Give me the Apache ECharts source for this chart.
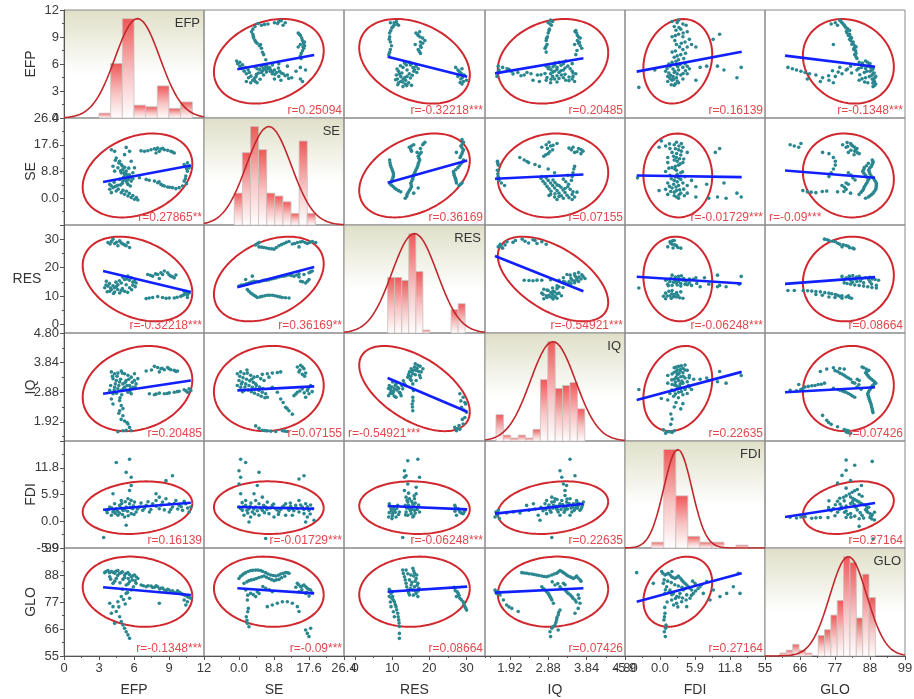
<!DOCTYPE html>
<html><head><meta charset="utf-8">
<script src="https://cdn.jsdelivr.net/npm/echarts@6/dist/echarts.min.js"></script>
<style>html,body{margin:0;padding:0;background:#fff}#c{width:914px;height:699px}</style>
</head><body><div id="c"></div>
<script>
// ---------- variables & axes ----------
const vars = ['EFP','SE','RES','IQ','FDI','GLO'];
const axisMin = [0,-8.8,-3,1.3,-5.9,55];
const axisMax = [12,26.4,35,4.8,17.7,99];
const majorTicks = [[0,3,6,9,12],[-8.8,0,8.8,17.6,26.4],[0,10,20,30],[1.92,2.88,3.84,4.8],[-5.9,0,5.9,11.8,17.7],[55,66,77,88,99]];
const minorTicks = [[1.5,4.5,7.5,10.5],[-4.4,4.4,13.2,22],[5,15,25,35],[1.44,2.4,3.36,4.32],[-2.95,2.95,8.85,14.75],[60.5,71.5,82.5,93.5]];
const labelValues = [[0,3,6,9,12],[0,8.8,17.6,26.4],[0,10,20,30],[1.92,2.88,3.84,4.8],[-5.9,0,5.9,11.8],[55,66,77,88,99]];
const labelTexts = [['0','3','6','9','12'],['0.0','8.8','17.6','26.4'],['0','10','20','30'],['1.92','2.88','3.84','4.80'],['-5.9','0.0','5.9','11.8'],['55','66','77','88','99']];

// ---------- distribution summaries ----------
const means = [6.3,7.5,16.0,3.0,3.0,81.2];
const sds = [1.92,5.64,6.09,0.564,2.37,5.84];

// ---------- histograms ----------
const histStart = [3,-1.2,8.76,1.575,-1.4,59.7];
const histWidth = [1,2.04,1.9,0.185,2.03,2.0];
const histEFP = [3,34,62,8,7,20,6,10];
const histSE = [11,25,34,26,11,10,8,4,29,4];
const histRES = [19,19,18,34,21,1,0,0,0,8,10];
const histIQ = [9,2,1,2,1,4,21,34,18,19,20,11];
const histFDI = [2,34,18,4,2,2,0,1];
const histGLO = [1,2,4,2,1,0,7,9,14,19,34,32,13,28,20];
const histCounts = [histEFP,histSE,histRES,histIQ,histFDI,histGLO];

// ---------- scatter pairs: [first var, second var] ----------
const pts_EFP_SE = [[4.06,15.97],[4.34,15.43],[5.33,16.73],[5.62,15.43],[5.19,14.34],[4.48,13.26],[4.77,12.17],[4.91,11.08],[4.62,10.0],[5.05,9.45],[5.33,8.91],[5.19,7.82],[5.48,7.28],[5.62,6.74],[4.91,8.36],[4.34,8.91],[4.2,10.54],[5.33,6.74],[5.76,5.65],[5.48,4.56],[5.68,4.02],[5.05,5.65],[4.77,6.2],[3.92,4.56],[4.2,3.48],[4.48,2.39],[4.91,1.85],[5.19,1.31],[5.48,0.76],[5.76,0.22],[6.04,-0.33],[6.33,-0.6],[3.92,2.94],[4.06,1.85],[6.89,15.43],[7.18,15.65],[7.46,15.97],[7.75,16.3],[8.03,16.5],[8.31,16.2],[8.6,15.97],[8.88,15.76],[9.16,15.43],[9.45,14.89],[8.17,15.43],[7.89,14.89],[7.75,5.65],[8.03,5.11],[8.31,4.56],[8.6,4.02],[8.88,3.7],[9.3,3.48],[9.59,3.15],[9.87,3.48],[10.16,4.02],[10.3,5.65],[10.44,7.28],[10.58,8.91],[10.3,11.08],[10.58,11.63],[10.72,10.0],[5.76,12.17],[6.04,10.0],[6.47,6.74],[7.04,6.2],[5.1,6.9],[5.4,5.2],[4.6,4.3],[5.9,8.4],[5.55,9.9],
  [4.4,12.5],[4.7,11.6],[5.0,10.6],[5.2,10.2],[4.85,9.0],[5.15,8.4],[5.35,7.9],[5.6,7.7],[5.75,7.0],[5.9,6.4],[5.5,6.2],[5.25,5.9],[5.0,4.9],[4.85,4.4],[4.4,3.9],[4.65,3.0],[5.35,2.3],[5.05,2.6],[5.6,1.6],[5.9,0.9],[6.2,0.2],[4.3,5.3],[4.05,4.1],[7.3,5.9],[8.15,5.4],[8.45,4.25],[9.05,3.6],[8.45,16.45],[7.9,16.1],[9.3,15.2],[6.6,15.6],[10.4,6.4],[10.5,9.7],[10.8,10.6],[10.5,4.8]];
const pts_EFP_RES = [[3.77,28.8],[4.06,29.2],[4.34,28.5],[4.77,29.4],[5.05,28.3],[5.33,27.7],[5.62,27.1],[4.62,27.7],[4.2,30.0],[5.48,28.8],[3.49,12.9],[3.77,13.5],[4.06,12.3],[4.34,12.9],[4.62,14.0],[4.91,14.6],[5.19,15.8],[5.48,17.0],[5.76,16.4],[6.04,15.2],[3.92,11.7],[4.34,11.4],[4.77,11.1],[5.19,11.7],[5.62,12.9],[5.9,13.8],[6.18,14.6],[3.63,15.2],[5.33,14.0],[4.5,13.4],[5.0,12.6],[7.18,17.6],[7.6,17.0],[8.03,17.6],[8.31,18.2],[8.6,18.8],[8.88,18.2],[9.16,17.0],[9.45,16.4],[9.59,17.4],[8.17,16.2],[7.04,9.1],[7.6,9.5],[8.03,9.8],[8.45,9.5],[9.02,9.3],[9.45,9.3],[10.01,9.9],[10.3,10.5],[10.58,9.5],[10.72,11.1],[10.3,11.7],[10.58,10.5],
  [3.6,13.9],[3.9,14.4],[4.2,13.6],[4.45,14.9],[4.75,15.4],[5.05,16.6],[5.35,16.0],[5.6,15.6],[5.9,14.9],[6.1,13.3],[4.0,12.8],[4.6,12.3],[4.9,11.9],[5.45,11.3],[5.8,12.2],[3.7,11.5],[4.25,10.9],[4.5,28.9],[4.9,28.7],[5.2,28.0],[3.95,28.3],[7.4,17.3],[7.85,17.8],[8.45,17.6],[9.0,17.5],[9.3,16.8],[8.75,9.2],[9.7,9.6],[10.15,10.2],[7.3,9.3],[10.45,11.3]];
const pts_SE_RES = [[4.19,28.0],[5.03,27.3],[6.29,27.1],[7.54,26.7],[8.8,26.5],[10.06,27.7],[11.31,28.5],[12.57,29.2],[13.41,28.3],[14.67,28.8],[15.92,29.2],[17.18,28.5],[18.44,29.2],[19.28,28.8],[5.03,28.8],[15.09,27.3],[0.0,13.5],[1.26,14.0],[2.51,14.6],[3.77,15.2],[5.03,15.0],[6.29,15.5],[7.54,15.7],[8.8,16.2],[10.06,16.7],[11.31,17.0],[12.57,17.4],[13.83,17.0],[15.09,17.8],[16.34,17.6],[17.6,18.2],[18.44,18.8],[15.09,16.7],[1.68,15.8],[3.35,17.0],[2.1,12.3],[2.93,11.1],[3.77,10.3],[4.61,9.5],[5.87,9.9],[7.12,10.3],[8.38,10.3],[9.64,9.9],[10.9,9.5],[12.57,9.3],[15.5,15.2],[16.76,14.6],[17.6,15.8],
  [0.6,13.9],[1.9,14.3],[3.1,14.9],[4.4,15.1],[5.7,15.3],[6.9,15.6],[8.2,16.0],[9.4,16.4],[10.7,16.9],[11.9,17.2],[13.2,17.2],[14.5,17.4],[2.5,11.7],[3.3,10.7],[4.2,9.9],[5.3,9.7],[6.5,10.1],[7.7,10.3],[9.0,10.1],[10.3,9.7],[11.7,9.4],[4.6,28.4],[5.7,27.2],[6.9,26.9],[8.2,26.6],[9.4,27.1],[10.7,28.1],[11.9,28.9],[14.0,28.5],[15.4,29.0],[16.6,28.8],[17.8,28.9],[16.0,15.0],[17.2,15.2],[18.0,18.5]];
const pts_EFP_IQ = [[4.06,3.54],[4.34,3.48],[4.62,3.5],[4.91,3.57],[5.19,3.48],[5.48,3.43],[5.76,3.37],[6.04,3.26],[4.2,3.32],[4.48,3.26],[4.77,3.21],[5.05,3.15],[5.33,3.26],[5.62,3.1],[5.9,3.04],[6.18,3.15],[4.34,3.04],[4.62,2.99],[4.91,2.94],[5.19,3.04],[5.48,2.88],[5.76,2.83],[4.2,2.83],[3.92,2.94],[6.04,3.48],[6.33,3.32],[7.75,3.72],[8.03,3.68],[8.31,3.64],[8.6,3.61],[8.88,3.68],[9.16,3.61],[9.45,3.59],[9.73,3.57],[8.17,3.54],[7.04,3.57],[7.32,2.83],[7.75,2.8],[8.17,2.85],[8.6,2.83],[9.02,2.86],[9.45,2.88],[9.87,2.91],[10.3,2.96],[10.72,2.99],[10.58,2.88],[10.87,2.94],[4.77,2.61],[4.91,2.45],[4.77,2.28],[5.05,2.12],[5.19,1.95],[5.48,1.85],[5.62,1.74],[5.76,1.63],[5.33,1.65],[5.05,1.63],[4.62,1.6],[4.06,2.66],[4.2,2.5],
  [4.15,3.4],[4.4,3.15],[4.55,3.4],[4.7,3.1],[4.85,3.3],[5.0,3.5],[5.1,3.0],[5.25,3.2],[5.4,3.1],[5.55,3.3],[5.7,3.0],[5.85,3.2],[4.3,2.95],[4.5,2.85],[4.95,2.8],[5.35,2.95],[5.65,2.9],[6.1,3.05],[4.0,3.1],[4.8,2.7],[5.05,2.35],[5.4,1.9],[4.9,2.0],[4.7,2.2],[8.4,3.66],[9.0,3.64],[9.6,3.55],[7.9,2.82],[8.85,2.84],[9.7,2.9],[10.45,2.93],[7.5,3.6]];
const pts_SE_IQ = [[-0.42,3.48],[0.42,3.54],[1.26,3.48],[2.1,3.5],[2.93,3.43],[3.77,3.37],[4.61,3.39],[5.45,3.32],[6.29,3.26],[0.0,3.26],[0.84,3.21],[1.68,3.15],[2.51,3.1],[3.35,3.04],[4.19,2.99],[5.03,2.94],[5.87,2.88],[6.71,2.83],[0.42,3.04],[1.26,2.94],[4.19,3.15],[7.12,2.72],[-0.42,3.1],[5.87,3.46],[7.12,3.48],[8.38,3.5],[9.64,3.52],[10.48,3.54],[7.54,3.37],[14.67,3.7],[15.5,3.75],[16.34,3.64],[15.09,3.54],[16.76,3.5],[15.92,3.46],[13.83,2.77],[14.67,2.88],[15.92,2.99],[17.18,2.94],[18.02,3.1],[16.76,2.72],[17.6,2.83],[8.38,3.04],[9.64,2.88],[10.48,2.66],[11.73,2.39],[12.57,2.28],[13.41,2.17],[4.19,1.79],[5.03,1.71],[5.87,1.65],[7.12,1.63],[9.22,1.61],[10.9,1.63],[12.15,1.61],
  [0.2,3.4],[1.0,3.35],[1.9,3.3],[2.7,3.25],[3.6,3.2],[4.4,3.1],[5.2,3.05],[6.0,3.0],[0.6,3.15],[1.5,3.05],[2.3,2.95],[3.1,2.9],[3.9,2.85],[4.8,2.8],[5.6,2.75],[6.5,2.7],[2.0,3.6],[3.2,3.3],[0.9,2.9],[15.3,3.6],[16.0,3.7],[16.5,3.4],[14.3,2.82],[15.3,2.92],[16.4,2.86],[17.4,3.0],[18.4,2.9],[11.1,2.55],[12.1,2.35],[8.0,1.62],[11.5,1.62],[6.5,1.64]];
const pts_RES_IQ = [[9.21,3.1],[9.67,2.94],[10.12,2.83],[10.57,2.99],[11.02,3.15],[11.48,3.04],[11.93,2.88],[12.38,2.77],[12.83,2.99],[13.29,3.15],[9.03,2.77],[10.12,3.21],[11.02,2.72],[14.19,3.37],[14.64,3.54],[15.1,3.64],[15.55,3.48],[16.0,3.7],[16.45,3.59],[16.91,3.75],[17.36,3.43],[17.81,3.54],[15.1,3.26],[16.45,3.26],[18.26,3.64],[15.55,3.15],[15.73,2.94],[15.55,2.72],[15.37,2.5],[15.55,2.28],[28.22,2.83],[29.12,2.72],[29.57,2.55],[28.67,2.39],[29.57,2.06],[29.12,1.85],[28.22,1.68],[27.31,1.63],[30.03,2.23],[26.86,1.74],
  [9.4,3.0],[9.9,3.05],[10.3,2.9],[10.8,3.1],[11.25,2.95],[11.7,3.0],[12.1,2.85],[12.6,3.1],[9.5,2.85],[10.6,2.75],[13.0,3.25],[14.4,3.45],[14.9,3.3],[15.3,3.55],[15.8,3.6],[16.2,3.45],[16.7,3.65],[17.1,3.55],[17.6,3.35],[15.0,3.4],[16.2,3.8],[17.5,3.72],[15.6,2.6],[15.45,2.4],[28.5,2.6],[29.3,2.3],[28.9,2.0],[28.0,1.8],[29.8,2.5],[27.6,1.7],[9.0,3.0],[13.6,3.1]];
const pts_EFP_FDI = [[3.63,2.4],[3.92,3.13],[4.2,2.04],[4.48,2.77],[4.77,3.5],[5.05,2.4],[5.33,3.13],[5.62,3.86],[5.9,2.77],[6.18,2.04],[4.06,1.31],[4.62,1.31],[5.19,0.95],[5.76,1.68],[4.34,3.86],[4.91,4.59],[5.48,4.95],[6.04,4.22],[6.47,3.13],[7.04,3.5],[7.6,3.86],[7.89,4.59],[8.17,5.32],[8.45,4.22],[8.74,4.95],[9.02,3.86],[9.3,3.13],[9.59,4.59],[9.87,3.5],[10.16,2.4],[10.44,3.86],[10.72,2.04],[10.87,3.13],[7.32,2.04],[8.17,2.77],[9.02,2.04],[6.75,2.4],[4.48,12.97],[5.62,13.69],[5.33,10.78],[5.76,9.69],[5.76,7.87],[5.62,6.77],[4.2,6.05],[9.3,10.05],[8.74,8.96],[7.89,6.05],[3.4,-3.57],[5.33,-0.87],
  [3.8,2.6],[4.1,2.9],[4.3,2.3],[4.6,2.2],[4.9,2.9],[5.2,2.5],[5.45,2.2],[5.7,3.0],[5.95,3.4],[6.3,2.7],[4.4,1.7],[4.75,1.8],[5.0,1.5],[5.5,1.2],[6.0,1.5],[3.7,1.9],[4.95,3.9],[5.25,4.3],[5.75,4.6],[6.9,2.9],[7.45,2.6],[7.9,3.3],[8.3,3.6],[8.6,2.5],[9.15,2.6],[9.45,3.9],[9.75,2.7],[10.05,3.2],[10.6,2.9],[10.3,4.4],[6.6,4.0],[7.2,4.3]];
const pts_SE_FDI = [[0.0,3.13],[0.84,2.4],[1.68,3.5],[2.51,2.77],[3.35,2.04],[4.19,3.13],[5.03,3.86],[5.87,2.4],[6.71,3.13],[7.54,1.68],[8.38,3.5],[9.22,2.77],[10.06,2.04],[10.9,3.13],[11.73,3.86],[12.57,2.4],[13.41,2.77],[14.25,3.5],[15.09,2.04],[15.92,3.13],[16.76,3.86],[17.6,2.4],[18.44,2.77],[1.26,1.31],[2.93,0.95],[5.03,1.31],[7.12,4.22],[8.8,0.95],[11.73,1.31],[15.09,4.59],[16.34,1.68],[4.19,4.59],[5.87,5.32],[1.68,4.59],[13.41,1.31],[17.18,0.95],[18.86,0.22],[2.51,-0.15],[0.42,13.69],[1.68,12.97],[0.0,11.14],[0.42,9.69],[0.0,8.23],[5.03,10.78],[4.61,7.87],[15.09,9.32],[16.34,10.05],[3.77,6.05],[0.42,6.05],[6.71,-3.79],[16.76,-0.15],
  [0.4,2.8],[1.1,3.2],[2.0,2.4],[2.8,3.3],[3.7,2.7],[4.6,2.3],[5.4,2.9],[6.2,3.5],[7.0,2.6],[7.9,2.9],[8.7,3.8],[9.6,2.5],[10.5,2.6],[11.3,3.4],[12.2,2.9],[13.0,3.3],[13.8,2.3],[14.7,2.8],[15.5,3.6],[16.3,2.6],[17.2,3.2],[18.0,3.6],[0.8,4.1],[2.2,1.8],[3.9,1.6],[6.4,1.9],[9.9,1.5],[12.9,4.0],[17.9,1.6],[3.0,4.0]];
const pts_RES_FDI = [[9.21,3.86],[9.67,2.77],[10.12,1.68],[10.57,2.4],[11.02,0.95],[11.48,3.5],[11.93,2.04],[9.03,0.95],[9.94,0.58],[13.29,11.14],[13.74,10.05],[14.19,8.23],[13.29,6.77],[13.74,5.32],[14.19,4.22],[14.64,2.77],[15.1,1.68],[15.55,3.86],[16.0,4.95],[16.45,6.05],[16.91,3.13],[17.36,2.04],[15.55,0.95],[13.74,2.04],[14.64,4.95],[16.45,7.5],[16.91,13.69],[17.36,9.69],[13.29,9.69],[14.19,13.34],[26.86,3.5],[27.76,2.77],[28.22,2.04],[29.12,1.68],[29.57,2.4],[27.31,1.31],[12.83,-3.57],[15.1,3.13],[16.0,2.4],[14.19,1.31],
  [9.4,3.3],[9.8,2.3],[10.3,3.0],[10.8,2.0],[11.2,2.8],[11.7,1.5],[9.2,1.9],[10.0,1.2],[13.5,3.5],[13.9,2.9],[14.4,3.5],[14.9,2.3],[15.3,2.6],[15.8,3.3],[16.2,1.8],[16.7,2.6],[17.1,3.6],[14.0,4.6],[15.2,4.4],[16.2,4.0],[13.6,1.4],[15.8,1.2],[14.4,6.2],[15.9,5.6],[27.1,3.0],[28.0,2.5],[28.6,1.8],[29.4,2.1],[26.9,2.2]];
const pts_IQ_FDI = [[1.575,2.04],[1.61,1.31],[1.66,0.58],[1.55,0.95],[1.63,2.4],[1.84,1.82],[2.01,2.04],[2.175,1.82],[2.34,3.5],[2.51,3.86],[2.63,1.31],[2.675,0.22],[2.8,3.86],[2.84,4.59],[2.88,3.13],[2.925,2.4],[2.97,4.22],[3.01,3.5],[3.05,4.95],[3.09,2.77],[3.13,2.04],[3.175,3.86],[3.22,4.59],[3.26,3.13],[3.3,2.4],[3.34,4.22],[3.38,3.5],[3.425,4.95],[3.47,2.04],[3.51,3.86],[3.55,2.77],[3.59,4.59],[3.63,3.5],[3.675,2.4],[3.72,3.13],[3.76,4.22],[2.84,1.68],[3.175,1.31],[3.425,1.31],[2.97,5.32],[3.3,5.68],[3.175,11.14],[3.22,9.69],[3.26,8.23],[3.3,6.77],[3.425,13.69],[3.55,10.05],[3.34,7.87],[2.97,-3.57],
  [2.82,2.6],[2.9,3.6],[2.95,2.0],[3.0,2.9],[3.03,4.3],[3.07,3.3],[3.11,2.5],[3.15,3.4],[3.2,2.6],[3.24,3.7],[3.28,2.0],[3.32,3.0],[3.36,2.7],[3.4,3.9],[3.45,2.9],[3.49,3.2],[3.53,2.4],[3.57,3.4],[3.61,2.9],[3.65,3.9],[3.7,2.7],[3.74,3.6],[2.7,3.1],[2.75,2.3],[3.1,4.8],[3.35,4.9],[3.6,4.2],[2.4,2.4],[1.6,1.6],[2.55,2.7]];
const pts_EFP_GLO = [[3.49,88.95],[3.77,89.8],[4.06,89.4],[4.34,88.7],[4.62,89.8],[4.91,88.95],[5.19,88.0],[5.48,88.95],[5.76,87.3],[6.04,88.0],[6.33,86.6],[3.92,87.3],[4.48,86.6],[5.05,86.2],[5.62,85.3],[6.18,84.6],[4.2,84.6],[5.33,83.9],[6.61,83.9],[7.04,83.2],[7.46,83.5],[7.75,83.0],[8.03,83.2],[8.31,82.6],[8.6,81.9],[8.88,82.2],[9.16,81.2],[9.45,80.8],[9.73,81.6],[10.01,80.5],[10.3,79.9],[10.58,79.2],[10.87,78.5],[8.17,76.5],[3.92,76.5],[4.2,75.1],[4.62,77.1],[4.91,79.2],[5.33,80.5],[5.62,78.5],[5.76,81.9],[4.48,73.1],[4.77,71.0],[4.91,69.0],[5.05,67.6],[5.19,66.3],[5.33,64.9],[5.48,63.6],[5.62,62.2],[4.34,68.3],[4.06,72.4],[10.3,77.8],[10.44,75.8],[10.58,77.1],
  [3.6,89.4],[3.9,88.9],[4.2,89.1],[4.45,89.5],[4.75,88.6],[5.0,89.3],[5.3,88.6],[5.6,88.2],[5.9,87.7],[6.2,87.2],[4.0,86.3],[4.6,87.8],[5.2,87.0],[5.5,86.6],[5.85,86.0],[6.1,85.6],[4.35,85.5],[4.8,84.8],[5.5,84.4],[5.95,83.2],[6.8,83.6],[7.2,83.6],[7.6,82.9],[7.9,83.6],[8.2,82.3],[8.45,82.7],[8.75,81.6],[9.0,81.9],[9.3,81.6],[9.6,80.6],[9.9,81.0],[10.15,80.2],[10.45,79.6],[10.7,78.9],[5.0,82.2],[5.45,80.9],[5.1,78.0],[4.7,75.0],[5.25,76.2]];
const pts_SE_GLO = [[0.0,86.6],[0.84,88.0],[1.68,88.95],[2.93,89.8],[4.19,90.0],[5.45,89.8],[6.71,88.95],[7.96,88.0],[9.22,87.6],[10.48,88.4],[11.73,88.95],[12.57,88.7],[1.26,84.6],[2.51,85.7],[3.77,86.2],[5.03,87.0],[6.29,87.6],[7.54,86.6],[8.8,85.7],[10.06,86.2],[1.68,81.9],[2.93,80.5],[4.19,79.2],[5.03,80.5],[6.71,82.6],[8.38,81.2],[14.67,84.6],[15.5,83.2],[16.34,83.9],[17.18,82.6],[18.02,81.9],[15.09,81.2],[16.76,80.5],[17.6,79.4],[7.12,75.1],[8.38,75.8],[9.64,76.5],[10.9,77.1],[12.15,77.1],[13.41,76.5],[14.67,75.1],[15.09,73.1],[2.1,77.8],[2.35,74.4],[1.84,71.0],[2.1,68.3],[2.51,66.9],[16.76,65.6],[17.18,64.2],[17.6,62.9],[18.02,66.3],
  [0.4,87.5],[1.2,88.5],[2.3,89.4],[3.5,89.9],[4.8,90.0],[6.0,89.4],[7.3,88.4],[8.6,87.8],[9.9,87.9],[11.1,88.7],[12.2,88.9],[2.0,85.2],[3.1,86.0],[4.4,86.6],[5.7,87.3],[6.9,87.1],[8.2,86.1],[9.4,86.0],[10.7,86.9],[11.5,87.5],[15.0,84.0],[15.9,83.5],[16.8,83.2],[17.5,82.2],[15.8,82.0],[17.0,81.0],[18.3,80.8],[14.3,83.0],[2.2,79.8],[3.6,80.0],[4.6,81.2],[6.0,83.3],[7.6,82.0],[2.2,73.0],[2.0,69.5]];
const pts_RES_GLO = [[9.21,82.2],[9.67,80.5],[10.12,79.2],[10.57,77.1],[11.02,75.1],[11.48,72.4],[11.75,69.7],[11.93,67.0],[11.93,64.2],[11.93,62.2],[9.67,75.1],[10.57,71.0],[12.83,90.0],[13.29,87.3],[13.74,84.6],[14.19,81.9],[14.64,79.9],[15.55,90.7],[16.0,88.7],[16.45,86.6],[16.91,84.6],[17.18,82.6],[16.45,80.5],[15.55,81.9],[14.64,86.0],[13.74,90.0],[26.86,82.6],[27.76,80.5],[28.22,78.5],[29.12,77.1],[29.57,75.1],[30.03,73.7],[27.31,79.2],[16.0,83.2],[16.91,79.2],[15.1,83.9],[10.12,81.2],[9.21,79.2],
  [9.45,81.5],[9.9,78.5],[10.3,77.8],[10.8,76.0],[11.2,73.8],[11.6,71.0],[11.85,68.4],[9.5,77.0],[10.3,73.0],[13.0,88.6],[13.5,86.0],[13.9,83.2],[14.4,80.8],[15.0,88.0],[15.3,85.0],[15.8,87.6],[16.2,85.5],[16.7,83.8],[17.0,81.5],[16.2,81.5],[15.7,79.8],[14.9,82.5],[15.8,89.6],[14.2,88.5],[16.6,88.0],[27.0,81.6],[27.5,81.2],[28.0,79.6],[28.6,77.9],[29.3,76.2],[29.8,74.5],[26.6,83.0]];
const pts_IQ_GLO = [[1.55,81.9],[1.59,80.5],[1.63,81.2],[1.675,79.9],[1.76,77.8],[1.84,75.8],[1.97,74.4],[2.13,73.1],[2.22,88.95],[2.34,88.7],[2.47,88.4],[2.59,88.0],[2.72,87.6],[2.84,87.3],[2.97,88.0],[3.09,88.7],[3.175,89.8],[3.26,88.95],[3.34,88.0],[3.425,87.3],[3.51,86.6],[3.59,87.6],[3.675,86.0],[2.72,83.2],[2.8,81.9],[2.88,80.5],[2.925,79.2],[2.97,77.8],[3.01,76.5],[3.175,83.2],[3.3,81.9],[3.38,80.5],[3.47,79.2],[3.55,77.8],[3.63,79.9],[3.26,84.6],[3.05,83.9],[3.175,73.7],[3.13,71.7],[3.09,69.7],[3.05,67.6],[2.97,66.3],[2.925,64.9],[2.94,62.9],[3.13,65.6],[3.675,76.5],[3.63,74.4],[3.55,72.4],
  [2.28,88.8],[2.4,88.5],[2.53,88.2],[2.65,87.8],[2.78,87.4],[2.9,87.6],[3.03,88.4],[3.13,89.2],[3.22,89.4],[3.3,88.5],[3.38,87.6],[3.46,87.0],[3.55,87.0],[3.63,86.8],[3.7,85.5],[2.76,82.5],[2.84,81.2],[2.9,79.9],[2.95,78.5],[3.2,82.5],[3.34,81.2],[3.43,79.9],[3.5,78.5],[3.58,77.0],[3.65,78.5],[3.3,84.0],[3.12,84.5],[2.98,85.2],[3.14,72.7],[3.1,70.7],[3.07,68.6],[3.0,66.9],[1.57,81.2],[1.65,80.6],[1.9,75.0]];
const pts_FDI_GLO = [[0.28,89.4],[0.84,88.0],[1.4,88.7],[1.97,87.3],[2.53,86.6],[3.09,87.6],[3.65,86.0],[4.21,84.6],[4.78,83.2],[5.34,81.9],[0.56,84.6],[1.12,83.2],[1.69,81.9],[2.25,80.5],[2.81,79.2],[3.37,80.5],[3.93,81.9],[4.5,79.9],[5.06,78.5],[5.62,80.5],[0.84,80.5],[1.97,77.8],[2.81,76.5],[3.65,77.1],[4.5,75.1],[5.9,84.6],[6.74,83.2],[7.3,80.5],[7.87,85.3],[0.84,72.4],[0.67,69.7],[1.01,67.6],[0.73,64.9],[0.9,62.9],[8.99,81.9],[10.11,79.2],[11.24,80.5],[12.36,83.2],[13.2,88.7],[13.49,80.5],[8.43,77.8],[-3.93,88.95],[-1.12,84.6],
  [0.5,88.6],[1.1,88.3],[1.7,88.0],[2.2,87.0],[2.8,87.0],[3.4,86.8],[3.9,85.3],[4.5,83.9],[5.0,82.6],[0.7,86.0],[1.3,85.5],[1.9,84.9],[2.5,84.0],[3.1,83.5],[3.7,83.0],[4.3,82.5],[0.9,82.0],[1.5,81.0],[2.0,80.0],[2.6,78.4],[3.2,79.0],[3.8,78.6],[4.4,77.8],[5.3,79.7],[6.0,81.5],[6.4,82.4],[1.2,77.0],[2.3,75.8],[3.0,75.0],[0.8,74.8],[0.75,71.0],[0.95,66.3],[7.0,84.0],[5.5,85.5],[2.0,89.4]];

const pairVars = [[0,1],[0,2],[1,2],[0,3],[1,3],[2,3],[0,4],[1,4],[2,4],[3,4],[0,5],[1,5],[2,5],[3,5],[4,5]];
const pairPoints = [pts_EFP_SE,pts_EFP_RES,pts_SE_RES,pts_EFP_IQ,pts_SE_IQ,pts_RES_IQ,pts_EFP_FDI,pts_SE_FDI,pts_RES_FDI,pts_IQ_FDI,pts_EFP_GLO,pts_SE_GLO,pts_RES_GLO,pts_IQ_GLO,pts_FDI_GLO];

// correlation labels (lower: x = first var; upper: x = second var)
const rLower = ['r=0.27865**','r=-0.32218***','r=0.36169**','r=0.20485','r=0.07155','r=-0.54921***','r=0.16139','r=-0.01729***','r=-0.06248***','r=0.22635','r=-0.1348***','r=-0.09***','r=0.08664','r=0.07426','r=0.27164'];
const rUpper = ['r=0.25094','r=-0.32218***','r=0.36169','r=0.20485','r=0.07155','r=-0.54921***','r=0.16139','r=-0.01729***','r=-0.06248***','r=0.22635','r=-0.1348***','r=-0.09***','r=0.08664','r=0.07426','r=0.27164'];

// fitted lines [x0,y0,x1,y1]
const fitLower = [[3.35,5.33,10.87,10.76],[3.35,18.8,10.87,11.4],[-0.42,13.1,18.9,20.2],[3.35,2.83,10.87,3.26],[-0.42,2.94,18.9,3.07],[8.76,3.34,30.2,2.25],[3.35,2.55,10.87,4.08],[-0.42,3.13,18.9,2.77],[8.76,3.35,30.2,2.62],[1.55,1.68,3.76,3.86],[3.35,83.0,10.87,79.85],[-0.42,82.6,18.9,80.5],[8.76,81.2,30.2,83.25],[1.55,80.8,3.76,82.6],[-3.93,77.1,13.77,88.7]];
const fitUpper = [[-0.42,5.41,18.9,7.0],[8.76,6.81,30.2,4.59],[8.76,5.11,30.2,12.39],[1.55,4.96,3.76,6.63],[1.55,6.41,3.76,7.82],[1.55,24.1,3.76,11.7],[-3.93,5.15,13.77,7.37],[-3.93,7.5,13.77,6.95],[-3.93,16.8,13.77,14.4],[-3.93,2.63,13.77,3.54],[61.3,6.93,89.6,5.7],[61.3,9.13,89.6,6.74],[61.3,14.3,89.6,16.65],[61.3,2.88,89.6,3.04],[61.3,0.95,89.6,4.01]];
const leftLabelCells = ['3,2','1,5'];

// ---------- build ----------
const FONT = '"Liberation Sans", Arial, Helvetica, sans-serif';
const X0 = 64, Y0 = 10, PW = 841, PH = 646;
const cL = c => Math.round(X0 + c * PW / 6);
const rT = r => Math.round(Y0 + r * PH / 6);
const K95 = Math.sqrt(5.991);

const option = {animation:false, grid:[], xAxis:[], yAxis:[], series:[], graphic:[]};
const diagBg = {type:'linear',x:0,y:0,x2:0,y2:1,colorStops:[{offset:0,color:'#dfdfc8'},{offset:0.6,color:'#ffffff'},{offset:1,color:'#ffffff'}]};
const histTop = c => Math.max.apply(null, histCounts[c]) / 0.92;

function fmt(v, arrV, arrT){ for (let k=0;k<arrV.length;k++){ if (Math.abs(arrV[k]-v)<1e-6) return arrT[k]; } return ''; }

for (let r=0;r<6;r++){
  for (let c=0;c<6;c++){
    const gi = r*6+c;
    option.grid.push({left:cL(c), top:rT(r), width:cL(c+1)-cL(c), height:rT(r+1)-rT(r), show:true, borderColor:'#8a8a8a', borderWidth:1, backgroundColor: r===c ? diagBg : 'rgba(255,255,255,0)', containLabel:false, outerBoundsMode:'none'});
    option.xAxis.push({gridIndex:gi, type:'value', min:axisMin[c], max:axisMax[c], show:false});
    if (r===c) option.yAxis.push({gridIndex:gi, type:'value', min:0, max:histTop(c), show:false});
    else option.yAxis.push({gridIndex:gi, type:'value', min:axisMin[r], max:axisMax[r], show:false});
  }
}

// visible left axes
for (let r=0;r<6;r++){
  const gi = r*6;
  option.yAxis.push({gridIndex:gi, type:'value', position:'left', min:axisMin[r], max:axisMax[r],
    axisLine:{show:true, lineStyle:{color:'#555', width:1}},
    axisTick:{show:true, inside:false, length:4, customValues:majorTicks[r], lineStyle:{color:'#555'}},
    axisLabel:{show:true, customValues:labelValues[r], margin:5, color:'#3a3a3a', fontSize:13, fontFamily:FONT,
      formatter:(v)=>fmt(v,labelValues[r],labelTexts[r])},
    splitLine:{show:false}});
  option.yAxis.push({gridIndex:gi, type:'value', position:'left', min:axisMin[r], max:axisMax[r],
    axisLine:{show:false}, axisTick:{show:true, inside:false, length:2, customValues:minorTicks[r], lineStyle:{color:'#555'}},
    axisLabel:{show:false}, splitLine:{show:false}});
}
// visible bottom axes
for (let c=0;c<6;c++){
  const gi = 30+c;
  option.xAxis.push({gridIndex:gi, type:'value', position:'bottom', min:axisMin[c], max:axisMax[c],
    axisLine:{show:true, lineStyle:{color:'#555', width:1}},
    axisTick:{show:true, inside:false, length:4, customValues:majorTicks[c], lineStyle:{color:'#555'}},
    axisLabel:{show:true, customValues:labelValues[c], margin:6, color:'#3a3a3a', fontSize:13, fontFamily:FONT,
      formatter:(v)=>fmt(v,labelValues[c],labelTexts[c])},
    splitLine:{show:false}});
  option.xAxis.push({gridIndex:gi, type:'value', position:'bottom', min:axisMin[c], max:axisMax[c],
    axisLine:{show:false}, axisTick:{show:true, inside:false, length:2, customValues:minorTicks[c], lineStyle:{color:'#555'}},
    axisLabel:{show:false}, splitLine:{show:false}});
}

function ellipsePoints(mx, sx, my, sy, rho){
  const pts = [], ph = Math.asin(rho), n = 120;
  for (let k=0;k<=n;k++){
    const t = 2*Math.PI*k/n;
    pts.push([mx + K95*sx*Math.cos(t), my + K95*sy*Math.sin(t+ph)]);
  }
  return pts;
}

for (let r=0;r<6;r++){
  for (let c=0;c<6;c++){
    const gi = r*6+c;
    const cellR = cL(c+1), cellB = rT(r+1), cellLeft = cL(c), cellTop = rT(r);
    if (r===c){
      const counts = histCounts[c];
      const bars = counts.map((v,k)=>[histStart[c]+k*histWidth[c], histStart[c]+(k+1)*histWidth[c], v]);
      option.series.push({type:'custom', xAxisIndex:gi, yAxisIndex:gi, silent:true, z:2,
        encode:{x:[0,1], y:2}, data:bars,
        renderItem:(params, api)=>{
          const v = api.value(2); if (!v) return null;
          const a = api.coord([api.value(0), v]); const b = api.coord([api.value(1), 0]);
          return {type:'rect', shape:{x:a[0], y:a[1], width:b[0]-a[0], height:b[1]-a[1]},
            style:{fill:new echarts.graphic.LinearGradient(0,0,0,1,[{offset:0,color:'#ef5757'},{offset:0.55,color:'#f8c4c4'},{offset:1,color:'#ffffff'}]), stroke:'#c9c0c0', lineWidth:0.8}};
        }});
      const peak = Math.max.apply(null, counts);
      const curve = [];
      const n = 160;
      for (let k=0;k<=n;k++){
        const x = axisMin[c] + (axisMax[c]-axisMin[c])*k/n;
        curve.push([x, peak*Math.exp(-0.5*Math.pow((x-means[c])/sds[c],2))]);
      }
      option.series.push({type:'line', xAxisIndex:gi, yAxisIndex:gi, data:curve, showSymbol:false, silent:true, z:3,
        lineStyle:{color:'#c0282c', width:1.6}});
      option.graphic.push({type:'text', x:cellR-4, y:cellTop+7, z:10,
        style:{text:vars[c], textAlign:'right', align:'right', textVerticalAlign:'top', verticalAlign:'top', fill:'#333', font:'13px '+FONT}});
      continue;
    }
    const i = Math.min(r,c), j = Math.max(r,c);
    const p = pairVars.findIndex(q=>q[0]===i && q[1]===j);
    const lower = r > c;
    const pts = lower ? pairPoints[p] : pairPoints[p].map(q=>[q[1],q[0]]);
    const label = lower ? rLower[p] : rUpper[p];
    const fit = lower ? fitLower[p] : fitUpper[p];
    const rho = parseFloat(label.replace('r=','').replace(/\*/g,''));
    option.series.push({type:'line', xAxisIndex:gi, yAxisIndex:gi, data:ellipsePoints(means[c],sds[c],means[r],sds[r],rho),
      showSymbol:false, silent:true, z:2, lineStyle:{color:'#d0282e', width:2}});
    option.series.push({type:'scatter', xAxisIndex:gi, yAxisIndex:gi, data:pts, symbol:'circle', symbolSize:3.6, silent:true, z:3,
      itemStyle:{color:'#2a8790', opacity:1}});
    option.series.push({type:'line', xAxisIndex:gi, yAxisIndex:gi, data:[[fit[0],fit[1]],[fit[2],fit[3]]], showSymbol:false, silent:true, z:4,
      lineStyle:{color:'#1020ff', width:2.6}});
    const leftAl = leftLabelCells.indexOf(r+','+c) >= 0;
    option.graphic.push({type:'text', x: leftAl ? cellLeft+4 : cellR-2, y:cellB-1, z:10,
      style:{text:label, textAlign: leftAl?'left':'right', align: leftAl?'left':'right', textVerticalAlign:'bottom', verticalAlign:'bottom', fill:'#e2484d', font:'12px '+FONT}});
  }
}

// axis titles
for (let r=0;r<6;r++){
  const cy = (rT(r)+rT(r+1))/2;
  if (vars[r]==='RES'){
    option.graphic.push({type:'text', x:27, y:cy, style:{text:vars[r], textAlign:'center', align:'center', textVerticalAlign:'middle', verticalAlign:'middle', fill:'#333', font:'14px '+FONT}});
  } else {
    option.graphic.push({type:'text', x:31, y:cy, rotation:Math.PI/2, style:{text:vars[r], textAlign:'center', align:'center', textVerticalAlign:'middle', verticalAlign:'middle', fill:'#333', font:'14px '+FONT}});
  }
}
for (let c=0;c<6;c++){
  const cx = (cL(c)+cL(c+1))/2;
  option.graphic.push({type:'text', x:cx, y:690, style:{text:vars[c], textAlign:'center', align:'center', textVerticalAlign:'middle', verticalAlign:'middle', fill:'#333', font:'14px '+FONT}});
}

const chart = echarts.init(document.getElementById('c'), null, {renderer:'canvas', width:914, height:699});
chart.setOption(option);
</script>
</body></html>
